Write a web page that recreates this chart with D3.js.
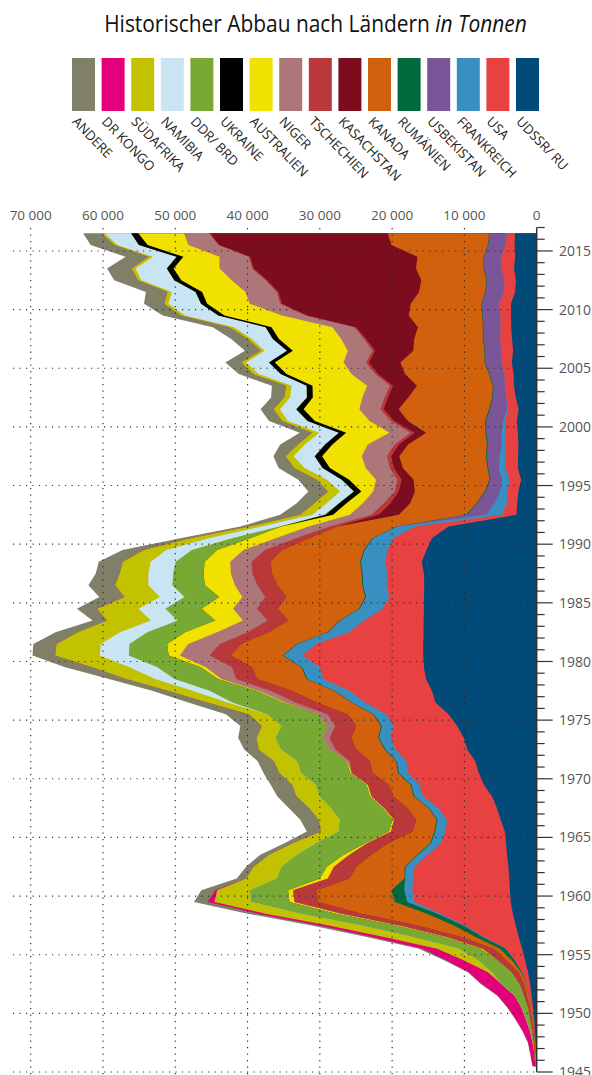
<!DOCTYPE html>
<html><head><meta charset="utf-8">
<script src="https://cdn.jsdelivr.net/npm/d3@7"></script>
<style>
html,body{margin:0;padding:0;background:#fff;}
svg{display:block;}
text{font-family:"Open Sans","Noto Sans",sans-serif;}
</style></head><body>
<svg id="chart" width="592" height="1075"></svg>
<script>
// ---------- DATA (tonnes U per year, 1945–2016) ----------
const years = d3.range(1945, 2017);

// stacking order: from the 0-axis (right) outward to the left
const countries = ["UDSSR/ RU","USA","FRANKREICH","USBEKISTAN","RUMÄNIEN","KANADA","KASACHSTAN","TSCHECHIEN","NIGER","AUSTRALIEN","UKRAINE","DDR/ BRD","NAMIBIA","SÜDAFRIKA","DR KONGO","ANDERE"];
const colors    = ["#024b78","#e84142","#3990c0","#7a5699","#006a3e","#d2610d","#7b0d1f","#b9393b","#ad7779","#f0e100","#000000","#79a935","#c9e4f2","#c2c200","#e4007b","#807f67"];

const xTicks = [0,10000,20000,30000,40000,50000,60000,70000];
const yLabelYears = d3.range(1945, 2020, 5);

const udssrRu = [0,50,130,250,350,500,700,900,1200,1600,
 2000,2500,2900,3300,3600,3700,3800,3900,4100,4250,
 4400,5000,5500,6200,7300,8000,8500,9600,10100,11000,
 12200,14000,14500,15300,15600,15700,15700,15650,15650,15600,
 15600,15550,15600,15900,15250,14500,12200,2800,2700,2540,
 2160,2605,2580,2530,2610,2760,2500,2900,3150,3200,
 3431,3262,3413,3521,3564,3562,2993,2872,3135,2990,
 3055,3004];
const usa = [50,50,80,100,150,250,400,500,800,1400,
 2200,4800,7000,10000,13300,13500,13300,13000,11000,9000,
 8200,7400,8100,9500,8900,9800,9500,9900,10100,8800,
 8600,9700,11400,14200,14400,16700,14800,10300,8200,5700,
 4800,5200,5100,5000,5400,5300,4600,2000,1400,1500,
 1600,1700,1800,1800,1800,1600,1400,1300,1200,1300,
 1400,1600,1650,1500,1450,1600,1550,1600,1750,1900,
 1250,1100];
const frankreich = [0,0,0,0,0,0,0,0,0,0,
 80,130,250,400,1000,1100,1100,1200,1300,1350,
 1400,1300,1250,1200,1100,1250,1300,1400,1600,1600,
 1700,1800,2000,2200,2400,2630,2550,2860,3270,3170,
 3190,3250,3380,3390,3100,2840,2450,2150,1730,1030,
 1010,930,750,510,440,300,180,20,10,7,
 7,5,4,5,8,7,6,3,5,3,
 2,0];
const usbekistan = [0,0,0,0,0,0,0,0,0,0,
 0,0,0,0,0,0,0,0,0,0,
 0,0,0,0,0,0,0,0,0,0,
 0,0,0,0,0,0,0,0,0,0,
 0,0,0,0,0,0,0,2700,2400,2015,
 1644,1459,1764,1926,2130,2350,2400,1860,1600,2016,
 2300,2260,2320,2338,2429,2400,2500,2400,2400,2400,
 2385,2404];
const rumaenien = [0,0,0,0,0,0,0,50,150,400,
 800,1000,1300,1500,1700,1800,100,150,150,150,
 150,150,150,150,150,150,150,150,150,150,
 150,150,150,150,150,150,150,150,150,150,
 150,150,150,150,150,150,150,120,120,120,
 120,120,120,120,120,120,120,100,100,90,
 90,90,80,80,80,80,77,90,77,77,
 77,50];
const kanada = [150,150,150,150,200,200,250,300,400,800,
 900,2000,5000,9000,10600,10400,7600,6700,6400,5800,
 3000,2800,2900,2800,3000,3500,3600,3900,3700,3400,
 3500,4800,5800,6800,6800,7150,7700,8100,7100,11200,
 10900,11700,12400,12400,11300,8700,8200,9300,9150,9650,
 10500,11700,12000,10900,8200,10700,12500,11600,10500,11600,
 11630,9860,9480,9000,10170,9780,9150,9000,9330,9130,
 13330,14040];
const kasachstan = [0,0,0,0,0,0,0,0,0,0,
 0,0,0,0,0,0,0,0,0,0,
 0,0,0,0,0,0,0,0,0,0,
 0,0,0,0,0,0,0,0,0,0,
 0,0,0,0,0,0,0,2800,2700,2240,
 1630,1210,1090,1270,1560,1870,2050,2800,3300,3719,
 4357,5279,6637,8521,14020,17803,19451,21317,22451,23127,
 23800,24586];
const tschechien = [0,20,50,100,200,250,400,600,900,1150,
 1500,2000,2500,2800,3300,3200,3000,3100,3000,2900,
 3000,3100,3200,3000,2900,2900,2800,2900,3000,2900,
 2800,2900,3000,2900,2800,2900,2950,2900,2850,2900,
 2900,2800,2700,2600,2400,1800,1000,1000,950,540,
 600,600,600,610,610,510,460,465,450,412,
 408,359,306,263,258,254,229,228,215,193,
 155,138];
const niger = [0,0,0,0,0,0,0,0,0,0,
 0,0,0,0,0,0,0,0,0,0,
 0,0,0,0,0,0,410,870,960,1120,
 1300,1460,1610,2060,3620,4130,4360,4260,3430,3280,
 3180,3110,2970,2970,2960,2840,2960,2970,2910,2980,
 2970,3320,3500,3710,2910,2900,2920,3080,3140,3280,
 3090,3430,3150,3030,3240,4200,4350,4670,4520,4060,
 4120,3480];
const australien = [0,0,0,0,0,0,0,0,0,100,
 300,400,500,700,700,700,1100,1000,800,300,
 300,200,200,200,200,200,100,50,50,50,
 50,300,300,500,700,1560,2920,4450,3820,4370,
 3210,4160,3780,3530,3660,3530,3780,2330,2260,1650,
 3710,4970,5490,4890,5980,7580,7720,6850,7570,8980,
 9520,7590,8610,8430,7980,5900,5980,6990,6350,5000,
 5650,6310];
const ukraine = [0,0,0,0,0,0,0,0,0,0,
 0,0,0,0,0,0,0,0,0,0,
 0,0,0,0,0,0,0,0,0,0,
 0,0,0,0,0,0,0,0,0,0,
 0,0,0,0,0,0,0,1000,1000,1000,
 1000,1000,1000,1000,1000,1000,1000,800,800,800,
 800,800,846,800,840,850,890,960,922,926,
 1200,1005];
const ddrBrd = [0,20,150,320,600,900,1300,2500,2800,2600,
 3000,4300,4800,5000,5300,5300,6000,6300,6500,6800,
 7000,7300,7200,7000,7000,6800,6800,6600,6500,6300,
 7000,7000,6500,6000,6000,5500,5200,5200,5200,5000,
 4800,4500,4200,4000,3500,2500,300,230,50,50,
 50,50,30,30,30,30,30,20,20,20,
 20,20,40,0,0,8,51,50,27,33,
 0,0];
const namibia = [0,0,0,0,0,0,0,0,0,0,
 0,0,0,0,0,0,0,0,0,0,
 0,0,0,0,0,0,0,0,0,0,
 0,650,2340,2700,3840,4040,3970,3780,3720,3700,
 3400,3300,3450,3450,3520,3210,2450,1660,1680,1900,
 2020,2450,2900,2780,2690,2710,2240,2330,2040,3040,
 3150,3070,2880,4370,4630,4500,3260,4500,4320,3260,
 2990,3650];
const suedafrika = [0,0,0,0,0,0,0,40,500,2000,
 3000,4000,4500,4800,5100,4500,4200,3800,3800,3200,
 2400,2900,3000,3200,3300,3000,3200,3100,2600,2700,
 2500,2800,3400,3960,5200,6150,6130,5820,6060,5730,
 4880,4600,3970,3850,3100,2500,1710,1670,1700,1670,
 1420,1440,1100,960,1000,800,880,820,760,750,
 670,530,540,650,560,580,580,470,530,570,
 390,490];
const drKongo = [350,550,600,1000,1400,1900,2300,2700,2600,2400,
 2000,1600,1300,1100,900,300,0,0,0,0,
 0,0,0,0,0,0,0,0,0,0,
 0,0,0,0,0,0,0,0,0,0,
 0,0,0,0,0,0,0,0,0,0,
 0,0,0,0,0,0,0,0,0,0,
 0,0,0,0,0,0,0,0,0,0,
 0,0];
const andere = [50,50,60,60,70,80,100,150,200,300,
 500,800,1100,1400,1900,1900,1300,1050,1250,1150,
 1950,2550,2800,2650,2950,2200,2240,2000,2540,2980,
 3200,2640,2200,2400,3700,3140,3200,3100,2000,2800,
 3500,3700,3300,3350,2960,1430,1200,2770,2450,2700,
 2570,2150,1700,2450,1700,1800,1800,1800,2000,2000,
 2200,2200,2300,2300,2500,2800,3000,3300,3400,3200,
 3300,2500];

const seriesValues = [udssrRu,usa,frankreich,usbekistan,rumaenien,kanada,kasachstan,tschechien,niger,australien,ukraine,ddrBrd,namibia,suedafrika,drKongo,andere];

// ---------- BUILD ----------
const table = years.map((yr,i) => {
  const row = {year: yr};
  countries.forEach((c,k) => row[c] = seriesValues[k][i]);
  return row;
});

const svg = d3.select("#chart");
svg.append("rect").attr("width",592).attr("height",1075).attr("fill","#fff");

const x = d3.scaleLinear().domain([0,70000]).range([536.7,30.7]);
const y = d3.scaleLinear().domain([1945,2017]).range([1072,227.5]);

// Title (fit to the reference width by a horizontal squeeze)
const tg = svg.append("g");
const title = tg.append("text")
  .attr("x",0).attr("y",0).attr("text-anchor","middle")
  .attr("fill","#111").style("font-size","23px");
title.append("tspan").text("Historischer Abbau nach Ländern ");
title.append("tspan").attr("font-style","italic").text("in Tonnen");
const tw = title.node().getComputedTextLength();
const sx = tw > 0 ? Math.min(1, 423/tw) : 1;
tg.attr("transform",`translate(315.5,32) scale(${sx},1)`);

// Legend
const legendOrder = countries.slice().reverse();
const legendColors = colors.slice().reverse();
const lg = svg.append("g");
legendOrder.forEach((c,i) => {
  const lx = 72 + i*29.6;
  lg.append("rect").attr("x",lx).attr("y",58).attr("width",23).attr("height",53)
    .attr("fill",legendColors[i]);
  lg.append("text")
    .attr("transform",`translate(${lx+7},115) rotate(46)`)
    .attr("dy","0.8em")
    .attr("fill","#222")
    .style("font-size","13.2px")
    .text(c);
});

// Stacked areas (painted from outermost cumulative down to avoid seams)
const stack = d3.stack().keys(countries);
const stacked = stack(table);
const area = d3.area()
  .y(d => y(d.data.year + 0.5))
  .x0(() => x(0))
  .x1(d => x(d[1]))
  .curve(d3.curveLinear);
const ga = svg.append("g");
stacked.slice().reverse().forEach(s => {
  const k = countries.indexOf(s.key);
  ga.append("path").datum(s).attr("d",area).attr("fill",colors[k]);
});

// Grid (dotted, on top)
const gg = svg.append("g").attr("stroke","#2a2a2a").attr("stroke-width",1.15).attr("stroke-dasharray","1.15,5.35");
xTicks.filter(v => v>0).forEach(v => {
  gg.append("line").attr("x1",x(v)).attr("x2",x(v)).attr("y1",228).attr("y2",1075);
});
yLabelYears.filter(v => v<=2015).forEach(v => {
  gg.append("line").attr("x1",13).attr("x2",x(0)).attr("y1",y(v)).attr("y2",y(v));
});

// X tick labels (top)
svg.append("g").selectAll("text").data(xTicks).join("text")
  .attr("x",d=>x(d)).attr("y",220).attr("text-anchor","middle")
  .attr("fill","#555").style("font-size","13.5px")
  .text(d => d3.format(",")(d).replace(/,/g," "));

// Y axis (right of zero)
const yAxisG = svg.append("g");
yAxisG.append("line").attr("x1",x(0)).attr("x2",x(0)).attr("y1",y(2017)).attr("y2",y(1945))
  .attr("stroke","#333").attr("stroke-width",1.5);
d3.range(1945,2018).forEach(v => {
  const major = v % 5 === 0;
  yAxisG.append("line").attr("x1",x(0)).attr("x2",x(0)+(major?16:8))
    .attr("y1",y(v)).attr("y2",y(v)).attr("stroke","#333").attr("stroke-width",1.2);
});
yAxisG.selectAll("text").data(yLabelYears.filter(v=>v<=2015)).join("text")
  .attr("x",559).attr("y",d=>y(d)).attr("dy","0.36em")
  .attr("fill","#555").style("font-size","14px")
  .text(d=>d);
</script>
</body></html>
